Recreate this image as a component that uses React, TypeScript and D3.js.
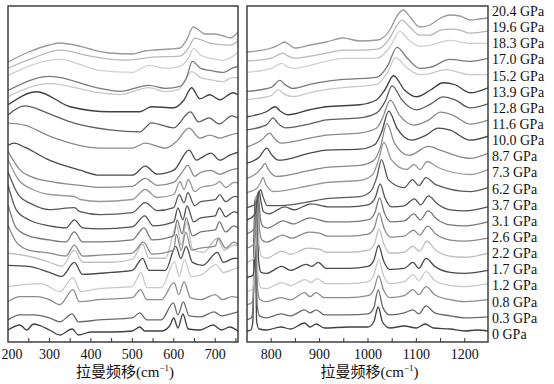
import React from "react";
import * as d3 from "d3";

// pressure of each spectrum, bottom (0) to top
const pressures = ["0", "0.3", "0.8", "1.2", "1.7", "2.2", "2.6", "3.1", "3.7", "6.2", "7.3",
  "8.7", "10.0", "11.6", "12.8", "13.9", "15.2", "17.0", "18.3", "19.6", "20.4"];

const colors = ["#404040", "#6a6a6a", "#8c8c8c", "#c8c8c8", "#4a4a4a", "#c0c0c0", "#8a8a8a",
  "#777777", "#505050", "#5a5a5a", "#9a9a9a", "#8a8a8a", "#4a4a4a", "#8a8a8a", "#5e5e5e",
  "#404040", "#c8c8c8", "#7a7a7a", "#d0d0d0", "#b8b8b8", "#999999"];

// [Raman shift cm-1, intensity a.u.] 200-755 cm-1
const leftSpectra: [number, number][][] = [
  [[200,44],[229,49],[245,44],[262,50],[280,48],[300,44],[325,39],[355,45],[370,39],[400,42],[450,42],[500,43],[518,47],[530,43],[570,43],[590,48],[600,56],[610,46],[622,60],[635,45],[663,44],[695,49],[715,44],[735,47],[755,43]],
  [[200,38],[229,43],[262,43],[300,40],[325,36],[355,44],[370,36],[420,38],[500,40],[518,45],[535,38],[570,38],[599,55],[610,43],[623,56],[637,42],[665,41],[697,46],[715,42],[737,44],[755,46]],
  [[200,40],[229,45],[270,45],[300,42],[325,37],[357,52],[372,40],[420,42],[500,44],[520,52],[535,42],[570,42],[601,59],[612,47],[625,60],[640,44],[665,42],[700,47],[718,42],[740,45],[755,44]],
  [[200,39],[240,41],[280,42],[325,34],[357,48],[375,34],[420,37],[500,39],[521,53],[535,38],[570,38],[602,64],[613,49],[626,66],[642,49],[668,51],[702,61],[720,53],[742,56],[755,58]],
  [[200,44],[250,43],[300,37],[330,33],[360,47],[380,35],[450,37],[500,39],[525,51],[540,39],[580,39],[605,63],[617,51],[630,63],[645,47],[670,44],[705,57],[720,47],[745,51],[755,51]],
  [[200,40],[250,37],[300,31],[330,27],[360,43],[380,31],[450,31],[500,34],[525,49],[540,35],[580,35],[607,68],[618,48],[631,71],[646,43],[672,41],[705,55],[722,43],[745,48],[755,48]],
  [[200,52],[220,35],[250,27],[300,24],[340,21],[360,32],[380,21],[422,22],[500,24],[527,35],[547,23],[600,27],[606,43],[618,27],[629,45],[643,27],[665,29],[700,31],[708,39],[725,29],[745,35],[755,33]],
  [[200,56],[220,33],[250,25],[300,21],[340,19],[360,29],[380,19],[422,19],[500,21],[528,33],[548,21],[600,25],[608,41],[620,27],[630,43],[645,25],[665,29],[700,31],[710,39],[725,29],[745,35],[755,33]],
  [[200,60],[220,35],[250,25],[300,19],[340,17],[360,25],[380,17],[422,16],[500,18],[530,29],[550,19],[600,23],[610,37],[622,25],[632,39],[648,23],[665,27],[700,29],[710,37],[725,28],[745,33],[755,32]],
  [[200,57],[225,34],[260,24],[300,19],[360,21],[374,17],[422,14],[500,16],[531,26],[560,18],[600,21],[613,34],[625,26],[634,36],[650,23],[665,27],[700,29],[711,34],[725,27],[745,32],[755,32]],
  [[200,53],[225,33],[260,23],[300,18],[360,16],[374,13],[422,11],[500,13],[531,23],[560,15],[600,18],[615,31],[625,23],[635,33],[650,21],[665,25],[700,28],[711,31],[725,25],[745,30],[755,30]],
  [[200,45],[230,26],[260,19],[300,15],[374,11],[422,9],[500,10],[531,18],[560,11],[600,14],[620,24],[634,31],[650,20],[665,24],[690,26],[711,22],[735,26],[755,28]],
  [[200,35],[215,37],[240,33],[300,20],[374,10],[422,5],[500,5],[531,14],[560,6],[600,10],[637,30],[655,20],[665,22],[690,27],[711,20],[735,25],[755,28]],
  [[200,41],[240,39],[300,28],[422,16],[500,16],[531,21],[580,16],[605,22],[637,36],[663,26],[687,29],[711,26],[735,29],[755,31]],
  [[200,33],[240,42],[300,34],[350,26],[446,18],[518,16],[546,25],[600,20],[640,36],[660,26],[685,30],[710,24],[740,32],[755,30]],
  [[200,27],[270,40],[350,25],[446,20],[518,20],[546,25],[600,24],[625,32],[643,44],[663,33],[687,37],[711,32],[743,39],[755,37]],
  [[200,19],[300,32],[420,23],[470,21],[540,28],[580,24],[612,26],[628,36],[643,44],[665,38],[687,36],[720,34],[740,38],[755,38]],
  [[200,9],[301,23],[422,11],[470,8],[540,14],[580,11],[615,13],[630,21],[645,38],[665,31],[687,29],[720,27],[740,31],[755,33]],
  [[200,8],[325,24],[420,13],[500,11],[540,18],[580,15],[615,17],[635,25],[648,35],[665,28],[690,25],[720,23],[755,31]],
  [[200,-1],[260,9],[325,17],[398,11],[480,7],[550,10],[615,11],[635,19],[651,29],[687,24],[735,22],[755,26]],
  [[200,-11],[250,-1],[300,6],[325,8],[360,6],[398,2],[446,-2],[500,-3],[530,0],[555,1],[590,2],[615,3],[631,11],[647,24],[660,21],[675,17],[695,17],[720,15],[737,13],[755,19]],
];

// 750-1248 cm-1
const rightSpectra: [number, number][][] = [
  [[750,43],[758,44],[762,52],[766,174],[770,52],[775,45],[790,44],[820,47],[840,45],[869,51],[880,47],[893,50],[910,46],[960,47],[1000,47],[1012,52],[1021,67],[1030,52],[1045,46],[1075,48],[1100,46],[1118,50],[1135,46],[1170,45],[1200,43],[1225,44],[1248,43]],
  [[750,38],[759,40],[763,53],[767,160],[771,53],[776,42],[790,40],[820,44],[840,42],[869,48],[880,45],[893,48],[910,43],[960,43],[1000,44],[1012,50],[1021,68],[1031,50],[1045,43],[1075,45],[1093,48],[1105,44],[1120,52],[1138,45],[1170,42],[1200,40],[1248,41]],
  [[750,37],[760,39],[764,52],[768,145],[772,52],[777,42],[790,40],[820,44],[840,42],[869,49],[880,45],[893,49],[910,44],[960,44],[1000,46],[1012,52],[1022,66],[1032,52],[1045,44],[1075,46],[1093,52],[1105,47],[1120,55],[1138,47],[1170,42],[1200,40],[1248,42]],
  [[750,34],[761,36],[765,51],[769,130],[773,51],[778,38],[790,37],[822,43],[840,40],[870,46],[882,43],[895,47],[912,42],[960,42],[1000,44],[1012,50],[1022,66],[1032,50],[1045,42],[1075,44],[1093,51],[1105,45],[1120,54],[1138,45],[1170,40],[1200,39],[1248,42]],
  [[750,32],[762,34],[766,49],[770,114],[774,49],[779,37],[790,36],[822,43],[840,39],[872,45],[884,43],[897,47],[914,41],[960,41],[1000,43],[1012,49],[1022,64],[1032,49],[1045,40],[1075,41],[1093,47],[1105,41],[1120,51],[1138,43],[1170,37],[1200,36],[1248,39]],
  [[750,31],[763,34],[767,48],[771,99],[775,48],[780,37],[790,35],[822,42],[840,39],[875,45],[900,44],[914,41],[960,41],[1000,43],[1013,49],[1023,64],[1033,49],[1046,40],[1075,41],[1093,47],[1106,42],[1122,52],[1140,43],[1170,37],[1200,36],[1248,40]],
  [[750,29],[764,33],[768,47],[772,84],[776,47],[781,37],[790,35],[824,42],[842,39],[878,45],[900,44],[916,41],[960,41],[1000,43],[1013,49],[1023,64],[1033,49],[1046,40],[1075,41],[1094,47],[1107,42],[1123,51],[1140,43],[1170,37],[1200,36],[1248,39]],
  [[750,27],[765,32],[769,45],[773,69],[777,45],[782,35],[792,33],[825,40],[845,37],[880,43],[918,39],[960,39],[1000,41],[1014,48],[1024,63],[1034,48],[1047,39],[1075,40],[1095,47],[1108,41],[1124,50],[1142,42],[1170,36],[1200,35],[1248,39]],
  [[750,25],[767,31],[771,43],[775,54],[779,43],[784,33],[795,31],[828,38],[848,35],[882,41],[920,38],[960,38],[1000,40],[1015,47],[1025,61],[1035,47],[1048,38],[1075,39],[1096,46],[1109,40],[1125,49],[1143,41],[1170,35],[1200,34],[1248,38]],
  [[750,21],[768,25],[773,32],[778,39],[783,32],[792,23],[820,23],[880,27],[914,30],[983,32],[1005,37],[1018,51],[1028,69],[1042,49],[1075,41],[1092,49],[1105,43],[1120,51],[1140,44],[1211,37],[1248,41]],
  [[750,20],[770,24],[778,30],[783,35],[789,28],[805,21],[880,27],[914,30],[983,32],[1010,38],[1022,53],[1033,70],[1048,53],[1080,43],[1095,48],[1108,43],[1122,51],[1145,45],[1211,38],[1248,43]],
  [[750,18],[772,24],[781,29],[787,33],[794,27],[810,20],[880,26],[914,29],[983,31],[1012,36],[1025,48],[1039,73],[1055,53],[1085,41],[1125,50],[1150,46],[1211,38],[1248,43]],
  [[750,17],[775,23],[791,32],[800,26],[815,20],[880,27],[914,30],[983,31],[1015,36],[1028,48],[1043,69],[1060,52],[1090,40],[1120,45],[1145,52],[1170,50],[1211,40],[1248,44]],
  [[750,17],[780,24],[797,31],[806,26],[820,21],[880,26],[914,29],[983,31],[1018,36],[1030,46],[1046,64],[1065,49],[1095,39],[1125,44],[1150,52],[1175,49],[1211,40],[1248,44]],
  [[750,18],[790,23],[804,30],[813,25],[830,20],[880,24],[914,28],[983,30],[1018,35],[1035,46],[1050,62],[1070,48],[1100,38],[1130,44],[1155,51],[1180,48],[1211,40],[1248,44]],
  [[750,15],[790,20],[808,25],[818,21],[835,17],[880,22],[914,25],[983,27],[1018,32],[1035,42],[1053,56],[1075,42],[1100,35],[1130,42],[1155,49],[1180,47],[1211,39],[1248,44]],
  [[750,16],[800,20],[815,26],[825,22],[845,19],[880,23],[914,26],[949,28],[1018,31],[1040,43],[1057,58],[1080,48],[1107,41],[1128,42],[1160,46],[1211,41],[1248,41]],
  [[750,8],[800,12],[818,19],[828,15],[845,11],[880,15],[914,18],[949,20],[1018,22],[1040,33],[1060,52],[1080,42],[1107,31],[1128,32],[1169,40],[1211,38],[1248,41]],
  [[750,11],[800,15],[822,20],[832,17],[849,15],[880,18],[914,22],[949,25],[1018,25],[1045,36],[1066,52],[1085,43],[1107,37],[1128,38],[1169,43],[1211,40],[1248,40]],
  [[750,6],[800,9],[825,14],[835,11],[849,9],[880,11],[914,14],[949,17],[983,17],[1020,18],[1045,29],[1060,42],[1070,47],[1085,41],[1107,32],[1128,32],[1150,37],[1169,38],[1190,37],[1211,34],[1248,36]],
  [[750,-1],[800,3],[815,6],[828,9],[838,6],[849,3],[880,6],[914,9],[949,13],[983,10],[1020,11],[1045,21],[1060,35],[1073,41],[1087,34],[1107,24],[1128,26],[1150,33],[1169,36],[1190,35],[1211,31],[1230,32],[1248,33]],
];

const leftTickLabels = [200, 300, 400, 500, 600, 700];
const rightTickLabels = [800, 900, 1000, 1100, 1200];

const STEP = 16.15; // vertical offset between spectra
const LABEL_LEVEL = 40;
const font = '"Liberation Serif", "Times New Roman", "Noto Sans CJK SC", serif';

export default function App() {
  const top = 6, bottom = 342;
  const xL = d3.scaleLinear().domain([200, 755]).range([8, 238]);
  const xR = d3.scaleLinear().domain([750, 1248]).range([247, 488]);
  const y = d3.scaleLinear().domain([0, 368]).range([374, 6]);

  const panel = (id: string, x: d3.ScaleLinear<number, number>, spectra: [number, number][][],
                 ticks: number[], labels: number[]) => {
    const [x0, x1] = x.range();
    return (
      <g key={id}>
        <clipPath id={id}>
          <rect x={x0} y={top} width={x1 - x0} height={bottom - top} />
        </clipPath>
        <g clipPath={`url(#${id})`}>
          {spectra.map((s, i) => {
            const line = d3.line<[number, number]>()
              .x(d => x(d[0]))
              .y(d => y(d[1] + i * STEP))
              .curve(d3.curveMonotoneX);
            return <path key={i} d={line(s) || ""} fill="none" stroke={colors[i]} strokeWidth={1.3} />;
          })}
        </g>
        <rect x={x0} y={top} width={x1 - x0} height={bottom - top} fill="none" stroke="#333" strokeWidth={1.4} />
        {ticks.map(t => (
          <line key={t} x1={x(t)} x2={x(t)} y1={bottom} y2={bottom - 4} stroke="#333" strokeWidth={1} />
        ))}
        {labels.map(t => (
          <text key={t} x={Math.max(x(t), 12)} y={358.5} textAnchor="middle" fontSize={14}
                fontFamily={font} fill="#111">{t}</text>
        ))}
        <text x={(x0 + x1) / 2 + 2} y={377} textAnchor="middle" fontSize={15} fontFamily={font} fill="#111">
          拉曼频移(cm<tspan dy={-6} fontSize={9}>−1</tspan><tspan dy={6}>)</tspan>
        </text>
      </g>
    );
  };

  return (
    <svg width={554} height={384} style={{ position: "absolute", left: 0, top: 0, background: "#fff" }}>
      {panel("clipL", xL, leftSpectra, d3.range(250, 751, 50), leftTickLabels)}
      {panel("clipR", xR, rightSpectra, d3.range(800, 1201, 50), rightTickLabels)}
      {pressures.map((p, i) => (
        <text key={p} x={492} y={y(LABEL_LEVEL + i * STEP)} dy="0.35em" fontSize={14}
              fontFamily={font} fill="#111">{p} GPa</text>
      ))}
    </svg>
  );
}
